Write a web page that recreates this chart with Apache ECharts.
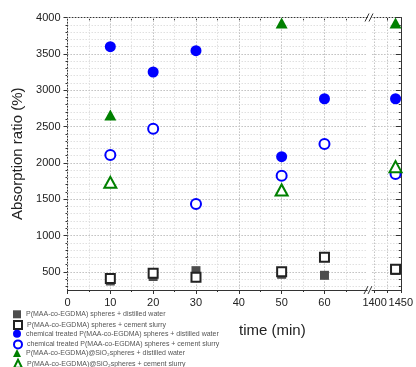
<!DOCTYPE html>
<html><head><meta charset="utf-8">
<script src="https://cdn.jsdelivr.net/npm/echarts@6/dist/echarts.min.js"></script>
<style>html,body{margin:0;padding:0;background:#fff}#c{width:416px;height:367px}</style>
</head><body><div id="c"></div>
<script>
// ---- data ----
const seriesNames = [
  'P(MAA-co-EGDMA) spheres + distilled water',
  'P(MAA-co-EGDMA) spheres + cement slurry',
  'chemical treated P(MAA-co-EGDMA) spheres + distilled water',
  'chemical treated P(MAA-co-EGDMA) spheres + cement slurry',
  'P(MAA-co-EGDMA)@SiO\u2082spheres + distilled water',
  'P(MAA-co-EGDMA)@SiO\u2082spheres + cement slurry'
];
const times = [10, 20, 30, 50, 60, 1440];
const triTimes = [10, 50, 1440];
const pWater = [374, 436, 516, 466, 452, 520];
const pSlurry = [408, 480, 425, 502, 700, 535];
const ctWater = [3598, 3250, 3543, 2084, 2882, 2882];
const ctSlurry = [2108, 2470, 1433, 1823, 2259, 1846];
const siWater = [2658, 3924, 3924];
const siSlurry = [1732, 1626, 1947];
const xTickLabels = [0, 10, 20, 30, 40, 50, 60];
const xTickLabelsBreak = [1400, 1450];
const yTickLabels = [500, 1000, 1500, 2000, 2500, 3000, 3500, 4000];
const xMinorTicks = [0, 5, 10, 15, 20, 25, 30, 35, 40, 45, 50, 55, 60, 65];
const xMinorTicksBreak = [1400, 1425, 1450];
const yMinorTicks = [300,400,500,600,700,800,900,1000,1100,1200,1300,1400,1500,1600,1700,1800,1900,2000,2100,2200,2300,2400,2500,2600,2700,2800,2900,3000,3100,3200,3300,3400,3500,3600,3700,3800,3900,4000];

// ---- chart ----
(function () {
const FONT = 'Arial, "Liberation Sans", sans-serif';
const AX = '#333';
const Y_MIN = 250, Y_MAX = 4000;
const splitMinor = {show: true, lineStyle: {color: '#e0e0e0', type: [1.5, 1.5], width: 1}};
const splitMajor = {show: true, lineStyle: {color: '#c4c4c4', type: [1.5, 1.5], width: 1}};
const fmt = v => String(v);
const lbl = {fontSize: 11, color: '#222', margin: 7, fontFamily: FONT, formatter: fmt, hideOverlap: false, showMinLabel: true, showMaxLabel: true};

const defs = [
  {name: seriesNames[0], t: times, v: pWater, symbol: 'rect', size: 9, color: '#4d4d4d', bw: 0},
  {name: seriesNames[1], t: times, v: pSlurry, symbol: 'emptyRect', size: 9, color: '#222', bw: 1.3},
  {name: seriesNames[2], t: times, v: ctWater, symbol: 'circle', size: 11, color: '#0000ff', bw: 0},
  {name: seriesNames[3], t: times, v: ctSlurry, symbol: 'emptyCircle', size: 10, color: '#0000ff', bw: 1.5},
  {name: seriesNames[4], t: triTimes, v: siWater, symbol: 'triangle', size: [12, 11], color: '#008000', bw: 0},
  {name: seriesNames[5], t: triTimes, v: siSlurry, symbol: 'emptyTriangle', size: [12, 11], color: '#008000', bw: 1.3}
];
const series = [];
defs.forEach(d => {
  const main = [], brk = [];
  d.t.forEach((t, i) => { (t > 100 ? brk : main).push([t, d.v[i]]); });
  const base = {
    type: 'scatter', name: d.name, symbol: d.symbol, symbolSize: d.size,
    itemStyle: {color: d.color, borderColor: d.color, borderWidth: d.bw, opacity: 1},
    emphasis: {disabled: true}
  };
  series.push(Object.assign({}, base, {xAxisIndex: 0, yAxisIndex: 0, data: main}));
  series.push(Object.assign({}, base, {xAxisIndex: 3, yAxisIndex: 2, data: brk}));
});

const legends = defs.map((d, i) => ({
  orient: 'vertical', left: 13, top: 310.3 + i * 9.7, itemWidth: 8, itemHeight: 8,
  padding: 0, selectedMode: false,
  textStyle: {fontSize: 7, color: '#555', fontFamily: FONT},
  data: [{name: d.name, icon: d.symbol, itemStyle: {borderWidth: d.bw ? 1 : 0}}]
}));

const gL0 = 67.5, gR0 = 367.3, gL1 = 372, gR1 = 405, gT = 17.5, gB = 290;
const option = {
  backgroundColor: '#fff',
  animation: false,
  textStyle: {fontFamily: FONT},
  grid: [
    {left: gL0, top: gT, width: gR0 - gL0, height: gB - gT},
    {left: gL1, top: gT, width: gR1 - gL1, height: gB - gT}
  ],
  xAxis: [
    {gridIndex: 0, type: 'value', position: 'bottom', min: 0, max: 70,
     axisLine: {show: true, onZero: false, lineStyle: {color: AX}},
     axisTick: {show: true, length: 2, customValues: xMinorTicks, lineStyle: {color: AX}},
     axisLabel: Object.assign({customValues: xTickLabels}, lbl),
     splitLine: splitMinor, z: 1},
    {gridIndex: 0, type: 'value', position: 'bottom', min: 0, max: 70,
     axisLine: {show: false, onZero: false},
     axisTick: {show: true, length: 4, customValues: xTickLabels, lineStyle: {color: AX}},
     axisLabel: {show: false}, splitLine: splitMajor, z: 2},
    {gridIndex: 0, type: 'value', position: 'top', min: 0, max: 70,
     axisLine: {show: true, onZero: false, lineStyle: {color: AX}},
     axisTick: {show: true, inside: true, length: 3, customValues: xMinorTicks, lineStyle: {color: AX}},
     axisLabel: {show: false}, splitLine: {show: false}},
    {gridIndex: 1, type: 'value', position: 'bottom', min: 1395, max: 1450,
     axisLine: {show: true, onZero: false, lineStyle: {color: AX}},
     axisTick: {show: true, length: 3, customValues: xMinorTicksBreak, lineStyle: {color: AX}},
     axisLabel: Object.assign({customValues: xTickLabelsBreak}, lbl),
     splitLine: splitMajor},
    {gridIndex: 1, type: 'value', position: 'top', min: 1395, max: 1450,
     axisLine: {show: true, onZero: false, lineStyle: {color: AX}},
     axisTick: {show: true, inside: true, length: 3, customValues: [1425], lineStyle: {color: AX}},
     axisLabel: {show: false}, splitLine: {show: false}}
  ],
  yAxis: [
    {gridIndex: 0, type: 'value', position: 'left', min: Y_MIN, max: Y_MAX,
     name: 'Absorption ratio (%)', nameLocation: 'middle', nameGap: 41,
     nameTextStyle: {fontSize: 15, color: '#222', fontFamily: FONT},
     axisLine: {show: true, onZero: false, lineStyle: {color: AX}},
     axisTick: {show: true, length: 2, customValues: yMinorTicks, lineStyle: {color: AX}},
     axisLabel: Object.assign({customValues: yTickLabels}, lbl),
     splitLine: splitMinor, z: 1},
    {gridIndex: 0, type: 'value', position: 'left', min: Y_MIN, max: Y_MAX,
     axisLine: {show: false, onZero: false},
     axisTick: {show: true, length: 4, customValues: yTickLabels, lineStyle: {color: AX}},
     axisLabel: {show: false}, splitLine: splitMajor, z: 2},
    {gridIndex: 1, type: 'value', position: 'right', min: Y_MIN, max: Y_MAX,
     axisLine: {show: true, onZero: false, lineStyle: {color: AX}},
     axisTick: {show: true, inside: true, length: 2, customValues: yMinorTicks, lineStyle: {color: AX}},
     axisLabel: {show: false},
     splitLine: splitMinor, z: 1},
    {gridIndex: 1, type: 'value', position: 'right', min: Y_MIN, max: Y_MAX,
     axisLine: {show: false, onZero: false},
     axisTick: {show: true, inside: true, length: 5, customValues: yTickLabels, lineStyle: {color: AX}},
     axisLabel: {show: false}, splitLine: splitMajor, z: 2}
  ],
  legend: legends,
  graphic: [
    {type: 'text', left: 239, top: 323, style: {text: 'time (min)', fontSize: 15, fill: '#222', fontFamily: FONT}},
    {type: 'line', shape: {x1: 364, y1: 294, x2: 368, y2: 286}, style: {stroke: '#333', lineWidth: 1}},
    {type: 'line', shape: {x1: 368, y1: 294, x2: 372, y2: 286}, style: {stroke: '#333', lineWidth: 1}},
    {type: 'line', shape: {x1: 365, y1: 21.5, x2: 369, y2: 13.5}, style: {stroke: '#333', lineWidth: 1}},
    {type: 'line', shape: {x1: 369, y1: 21.5, x2: 373, y2: 13.5}, style: {stroke: '#333', lineWidth: 1}}
  ],
  series: series
};
echarts.init(document.getElementById('c'), null, {renderer: 'canvas'}).setOption(option);
})();
</script>
</body></html>
